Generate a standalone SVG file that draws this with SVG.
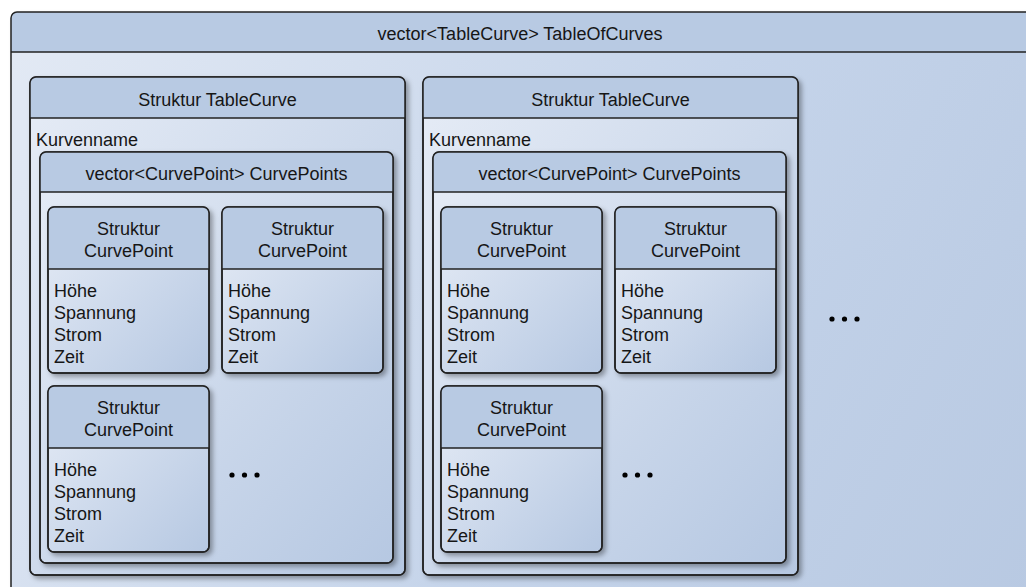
<svg xmlns="http://www.w3.org/2000/svg" width="1026" height="587" viewBox="0 0 1026 587">
  <style>
    .frame { fill: url(#bodyFill); stroke: #222; stroke-width: 1.5; }
    .head { fill: #b8cae3; }
    .edge { fill: none; stroke: #222; stroke-width: 1.5; }
    .sep { stroke: #222; stroke-width: 1.5; }
    text { font-family: "Liberation Sans", Arial, sans-serif; font-size: 18px; fill: #161616; }
    .c { text-anchor: middle; }
    .dot { fill: #000; }
  </style>
  <defs>
    <linearGradient id="bodyFill" x1="0" y1="0" x2="1" y2="1">
      <stop offset="0" stop-color="#e6ecf6"/>
      <stop offset="1" stop-color="#b6c8e2"/>
    </linearGradient>
    <linearGradient id="outerFill" gradientUnits="userSpaceOnUse" x1="0" y1="50" x2="1026" y2="587">
      <stop offset="0" stop-color="#e2e9f4"/>
      <stop offset="0.55" stop-color="#c5d4ea"/>
      <stop offset="1" stop-color="#b8c9e2"/>
    </linearGradient>
    <filter id="shadow" x="-5%" y="-5%" width="115%" height="115%">
      <feDropShadow dx="3" dy="3" stdDeviation="2.5" flood-color="#000" flood-opacity="0.35"/>
    </filter>
  </defs>

  <rect width="1026" height="587" fill="#ffffff"/>

  <!-- outer container: vector of curves -->
  <g id="tableOfCurves" transform="translate(11,12)">
    <rect x="0" y="0" width="1040" height="600" rx="6" fill="url(#outerFill)" filter="url(#shadow)"/>
    <path class="head" d="M0,40 V6 Q0,0 6,0 H1040 V40 Z"/>
    <rect class="edge" x="0" y="0" width="1040" height="600" rx="6"/>
    <line class="sep" x1="0" y1="40" x2="1040" y2="40"/>
    <text class="c" x="509" y="28">vector&lt;TableCurve&gt; TableOfCurves</text>
  </g>

  <!-- first TableCurve -->
  <g id="tableCurve1" transform="translate(30,77)">
    <rect class="frame" x="0" y="0" width="375" height="498" rx="6" filter="url(#shadow)"/>
    <path class="head" d="M0,41 V6 Q0,0 6,0 H369 Q375,0 375,6 V41 Z"/>
    <rect class="edge" x="0" y="0" width="375" height="498" rx="6"/>
    <line class="sep" x1="0" y1="41" x2="375" y2="41"/>
    <text class="c" x="187.5" y="29">Struktur TableCurve</text>
    <text x="6" y="69">Kurvenname</text>
  </g>
  <g id="curvePoints1" transform="translate(40,152)">
    <rect class="frame" x="0" y="0" width="353" height="411" rx="6" filter="url(#shadow)"/>
    <path class="head" d="M0,40 V6 Q0,0 6,0 H347 Q353,0 353,6 V40 Z"/>
    <rect class="edge" x="0" y="0" width="353" height="411" rx="6"/>
    <line class="sep" x1="0" y1="40" x2="353" y2="40"/>
    <text class="c" x="176.5" y="28">vector&lt;CurvePoint&gt; CurvePoints</text>
  </g>
  <g id="curvePoint1a" transform="translate(48,207)">
    <rect class="frame" x="0" y="0" width="161" height="166" rx="6" filter="url(#shadow)"/>
    <path class="head" d="M0,62 V6 Q0,0 6,0 H155 Q161,0 161,6 V62 Z"/>
    <rect class="edge" x="0" y="0" width="161" height="166" rx="6"/>
    <line class="sep" x1="0" y1="62" x2="161" y2="62"/>
    <text class="c" x="80.5" y="28">Struktur</text>
    <text class="c" x="80.5" y="50">CurvePoint</text>
    <text x="6" y="90">Höhe</text>
    <text x="6" y="112">Spannung</text>
    <text x="6" y="134">Strom</text>
    <text x="6" y="156">Zeit</text>
  </g>
  <g id="curvePoint1b" transform="translate(222,207)">
    <rect class="frame" x="0" y="0" width="161" height="166" rx="6" filter="url(#shadow)"/>
    <path class="head" d="M0,62 V6 Q0,0 6,0 H155 Q161,0 161,6 V62 Z"/>
    <rect class="edge" x="0" y="0" width="161" height="166" rx="6"/>
    <line class="sep" x1="0" y1="62" x2="161" y2="62"/>
    <text class="c" x="80.5" y="28">Struktur</text>
    <text class="c" x="80.5" y="50">CurvePoint</text>
    <text x="6" y="90">Höhe</text>
    <text x="6" y="112">Spannung</text>
    <text x="6" y="134">Strom</text>
    <text x="6" y="156">Zeit</text>
  </g>
  <g id="curvePoint1c" transform="translate(48,386)">
    <rect class="frame" x="0" y="0" width="161" height="166" rx="6" filter="url(#shadow)"/>
    <path class="head" d="M0,62 V6 Q0,0 6,0 H155 Q161,0 161,6 V62 Z"/>
    <rect class="edge" x="0" y="0" width="161" height="166" rx="6"/>
    <line class="sep" x1="0" y1="62" x2="161" y2="62"/>
    <text class="c" x="80.5" y="28">Struktur</text>
    <text class="c" x="80.5" y="50">CurvePoint</text>
    <text x="6" y="90">Höhe</text>
    <text x="6" y="112">Spannung</text>
    <text x="6" y="134">Strom</text>
    <text x="6" y="156">Zeit</text>
  </g>
  <g id="more1">
    <circle class="dot" cx="232" cy="475" r="2.6"/>
    <circle class="dot" cx="244.5" cy="475" r="2.6"/>
    <circle class="dot" cx="257" cy="475" r="2.6"/>
  </g>

  <!-- second TableCurve -->
  <g id="tableCurve2" transform="translate(423,77)">
    <rect class="frame" x="0" y="0" width="375" height="498" rx="6" filter="url(#shadow)"/>
    <path class="head" d="M0,41 V6 Q0,0 6,0 H369 Q375,0 375,6 V41 Z"/>
    <rect class="edge" x="0" y="0" width="375" height="498" rx="6"/>
    <line class="sep" x1="0" y1="41" x2="375" y2="41"/>
    <text class="c" x="187.5" y="29">Struktur TableCurve</text>
    <text x="6" y="69">Kurvenname</text>
  </g>
  <g id="curvePoints2" transform="translate(433,152)">
    <rect class="frame" x="0" y="0" width="353" height="411" rx="6" filter="url(#shadow)"/>
    <path class="head" d="M0,40 V6 Q0,0 6,0 H347 Q353,0 353,6 V40 Z"/>
    <rect class="edge" x="0" y="0" width="353" height="411" rx="6"/>
    <line class="sep" x1="0" y1="40" x2="353" y2="40"/>
    <text class="c" x="176.5" y="28">vector&lt;CurvePoint&gt; CurvePoints</text>
  </g>
  <g id="curvePoint2a" transform="translate(441,207)">
    <rect class="frame" x="0" y="0" width="161" height="166" rx="6" filter="url(#shadow)"/>
    <path class="head" d="M0,62 V6 Q0,0 6,0 H155 Q161,0 161,6 V62 Z"/>
    <rect class="edge" x="0" y="0" width="161" height="166" rx="6"/>
    <line class="sep" x1="0" y1="62" x2="161" y2="62"/>
    <text class="c" x="80.5" y="28">Struktur</text>
    <text class="c" x="80.5" y="50">CurvePoint</text>
    <text x="6" y="90">Höhe</text>
    <text x="6" y="112">Spannung</text>
    <text x="6" y="134">Strom</text>
    <text x="6" y="156">Zeit</text>
  </g>
  <g id="curvePoint2b" transform="translate(615,207)">
    <rect class="frame" x="0" y="0" width="161" height="166" rx="6" filter="url(#shadow)"/>
    <path class="head" d="M0,62 V6 Q0,0 6,0 H155 Q161,0 161,6 V62 Z"/>
    <rect class="edge" x="0" y="0" width="161" height="166" rx="6"/>
    <line class="sep" x1="0" y1="62" x2="161" y2="62"/>
    <text class="c" x="80.5" y="28">Struktur</text>
    <text class="c" x="80.5" y="50">CurvePoint</text>
    <text x="6" y="90">Höhe</text>
    <text x="6" y="112">Spannung</text>
    <text x="6" y="134">Strom</text>
    <text x="6" y="156">Zeit</text>
  </g>
  <g id="curvePoint2c" transform="translate(441,386)">
    <rect class="frame" x="0" y="0" width="161" height="166" rx="6" filter="url(#shadow)"/>
    <path class="head" d="M0,62 V6 Q0,0 6,0 H155 Q161,0 161,6 V62 Z"/>
    <rect class="edge" x="0" y="0" width="161" height="166" rx="6"/>
    <line class="sep" x1="0" y1="62" x2="161" y2="62"/>
    <text class="c" x="80.5" y="28">Struktur</text>
    <text class="c" x="80.5" y="50">CurvePoint</text>
    <text x="6" y="90">Höhe</text>
    <text x="6" y="112">Spannung</text>
    <text x="6" y="134">Strom</text>
    <text x="6" y="156">Zeit</text>
  </g>
  <g id="more2">
    <circle class="dot" cx="625" cy="475" r="2.6"/>
    <circle class="dot" cx="637.5" cy="475" r="2.6"/>
    <circle class="dot" cx="650" cy="475" r="2.6"/>
  </g>

  <!-- further curves -->
  <g id="moreCurves">
    <circle class="dot" cx="832" cy="319" r="2.6"/>
    <circle class="dot" cx="844.5" cy="319" r="2.6"/>
    <circle class="dot" cx="857" cy="319" r="2.6"/>
  </g>

  <g id="connectors"/>
</svg>
